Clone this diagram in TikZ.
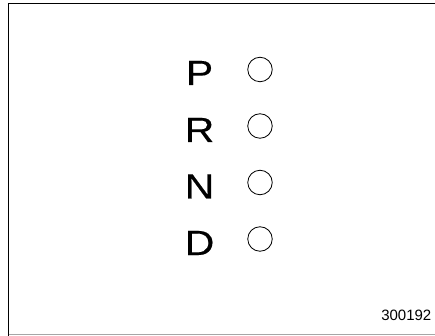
\documentclass[tikz,border=0pt]{standalone}
\usepackage{fontspec}
\setmainfont{Liberation Sans}
\newfontfamily\gearfont[FakeBold=0.3]{Liberation Sans}
\newcommand{\gearletter}[1]{\scalebox{1.17}[1]{#1}}
\begin{document}
\begin{tikzpicture}[x=1pt,y=-1pt,
  gear/.style={font=\gearfont\fontsize{35}{35}\selectfont, inner sep=0pt, anchor=base},
  lamp/.style={circle, draw, line width=0.8pt, minimum size=24.5pt, inner sep=0pt}]
\useasboundingbox (0,0) rectangle (435,336);
\draw[line width=1.3pt] (8.5,340) -- (8.5,3.2) -- (440,3.2);
\draw[line width=1.3pt, gray!70] (8.5,334.8) -- (440,334.8);
\node[gear] (P) at (199.5,85) {\gearletter{P}};
\node[gear] (R) at (199.5,142) {\gearletter{R}};
\node[gear] (N) at (199.5,198.5) {\gearletter{N}};
\node[gear] (D) at (199.5,255) {\gearletter{D}};
\node[lamp] (cP) at (260,69.5) {};
\node[lamp] (cR) at (260,126) {};
\node[lamp] (cN) at (260,182.5) {};
\node[lamp] (cD) at (260,239) {};
\node[font=\fontsize{15}{15}\selectfont, inner sep=0pt, anchor=base east] (id) at (431.5,320.5) {300192};
\end{tikzpicture}
\end{document}
